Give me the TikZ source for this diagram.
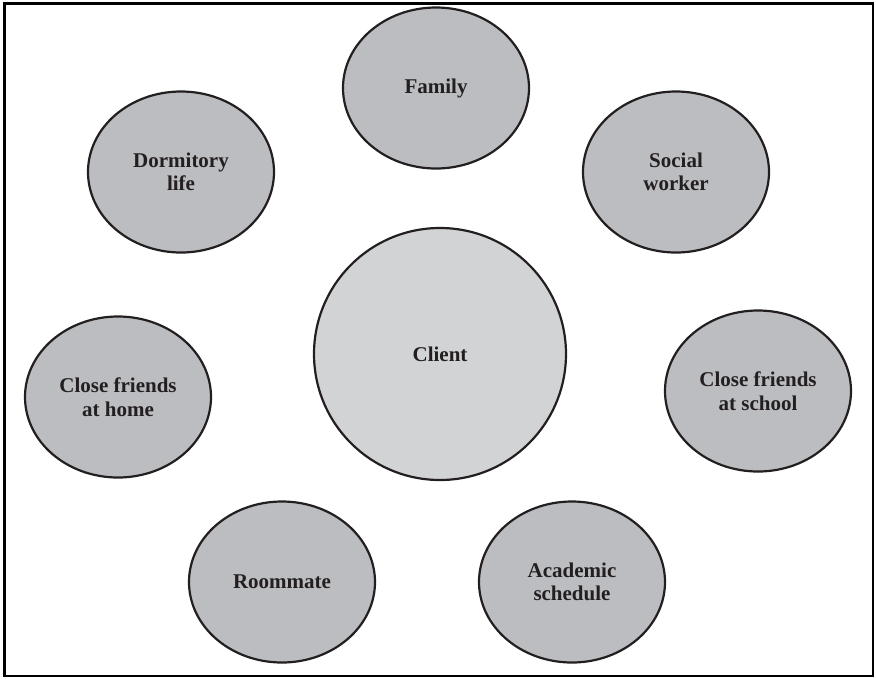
\documentclass[tikz,border=0pt]{standalone}
\usepackage{fontspec}
\setmainfont{Liberation Serif}
\usetikzlibrary{shapes.geometric}
\definecolor{ringfill}{HTML}{BCBDC0}
\definecolor{corefill}{HTML}{D1D3D4}
\definecolor{inkc}{HTML}{231F20}
\tikzset{
  bubble/.style={ellipse, draw=inkc, line width=2.2pt, fill=ringfill,
    minimum width=186pt, minimum height=161pt, inner sep=0pt,
    align=center, text=inkc,
    font=\fontsize{21pt}{23.5pt}\selectfont\bfseries},
  corebubble/.style={bubble, fill=corefill, minimum width=252pt, minimum height=252pt}
}
\begin{document}
\begin{tikzpicture}[x=1pt,y=-1pt]
\useasboundingbox (0,0) rectangle (876,678);
\draw[line width=2.4pt, draw=black] (4.5,3.5) rectangle (873,676);
\node[bubble] (family) at (436,88) {Family};
\node[bubble] (dorm) at (181,172) {Dormitory\\life};
\node[bubble] (social) at (676,172) {Social\\worker};
\node[corebubble] (client) at (440,354) {Client};
\node[bubble] (home) at (118,397) {Close friends\\at home};
\node[bubble] (school) at (758,391) {Close friends\\at school};
\node[bubble] (room) at (282,582) {Roommate};
\node[bubble] (acad) at (572,582) {Academic\\schedule};
\end{tikzpicture}
\end{document}
